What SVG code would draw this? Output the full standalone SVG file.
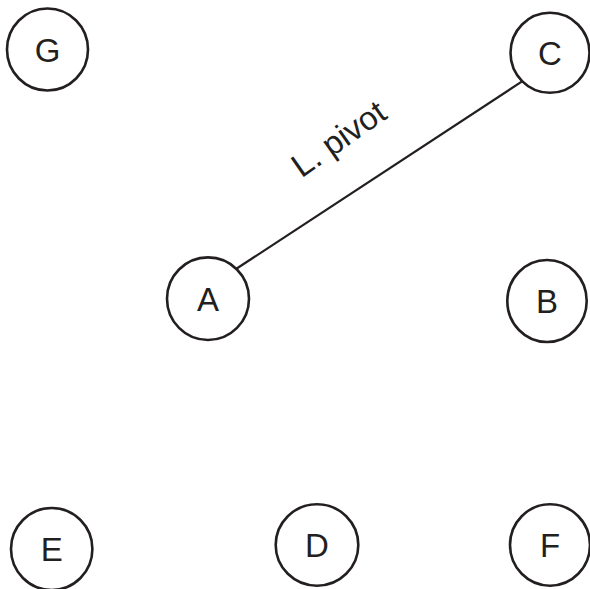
<svg xmlns="http://www.w3.org/2000/svg" width="590" height="589" viewBox="0 0 590 589">
<style>
.n{fill:#fff;stroke:#231f20;stroke-width:2.6}
.t{font-family:"Liberation Sans",Arial,sans-serif;font-size:33px;fill:#231f20;text-anchor:middle}
.e{stroke:#231f20;stroke-width:2.2;fill:none}
.l{font-family:"Liberation Sans",Arial,sans-serif;font-size:33px;fill:#231f20}
</style>
<rect width="590" height="589" fill="#fff"/>
<g id="connectors">
<line class="e" x1="236" y1="269" x2="521.7" y2="81.7"/>
<text class="l" transform="translate(301.5 178.5) rotate(-35)">L. pivot</text>
</g>
<g id="G"><ellipse class="n" cx="47.5" cy="49.5" rx="40.5" ry="41"/><text class="t" x="47.5" y="61.5">G</text></g>
<g id="C"><ellipse class="n" cx="550" cy="52.8" rx="39.5" ry="40"/><text class="t" x="550" y="64.8">C</text></g>
<g id="A"><ellipse class="n" cx="208" cy="298.7" rx="41" ry="41.3"/><text class="t" x="208" y="310.7">A</text></g>
<g id="B"><ellipse class="n" cx="547" cy="301" rx="39.7" ry="41"/><text class="t" x="547" y="313">B</text></g>
<g id="E"><ellipse class="n" cx="51.7" cy="549" rx="40.7" ry="41"/><text class="t" x="51.7" y="561">E</text></g>
<g id="D"><ellipse class="n" cx="317" cy="545" rx="41.3" ry="40.7"/><text class="t" x="317" y="557">D</text></g>
<g id="F"><ellipse class="n" cx="550" cy="545" rx="40" ry="40.7"/><text class="t" x="550" y="557">F</text></g>
</svg>
